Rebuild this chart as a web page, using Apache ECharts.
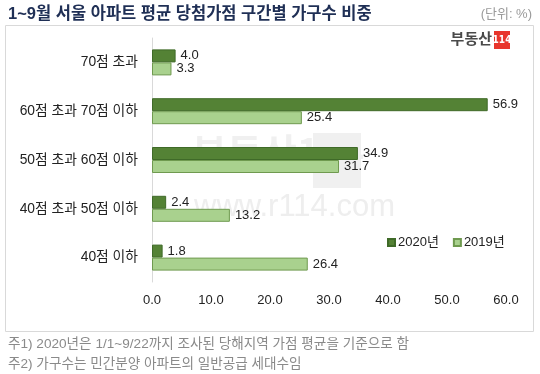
<!DOCTYPE html>
<html><head><meta charset="utf-8">
<script src="https://cdn.jsdelivr.net/npm/echarts@6/dist/echarts.min.js"></script>
<style>html,body{margin:0;padding:0;background:#fff}#c{width:540px;height:374px}</style>
</head><body><div id="c"></div>
<script>
const categories = ['70점 초과', '60점 초과 70점 이하', '50점 초과 60점 이하', '40점 초과 50점 이하', '40점 이하'];
const values2020 = [4.0, 56.9, 34.9, 2.4, 1.8];
const values2019 = [3.3, 25.4, 31.7, 13.2, 26.4];
const seriesNames = ['2020년', '2019년'];
const xTicks = [0, 10, 20, 30, 40, 50, 60];

const FONT = '"Liberation Sans", "Noto Sans CJK KR", sans-serif';
const chart = echarts.init(document.getElementById('c'), null, {renderer: 'canvas'});
chart.setOption({
  animation: false,
  textStyle: {fontFamily: FONT},
  graphic: [
    {type: 'rect', shape: {x: 5.5, y: 25.5, width: 528, height: 306}, style: {fill: 'none', stroke: '#d9d9d9', lineWidth: 1}, z: 0},
    {type: 'text', x: 8, y: 14, style: {text: '1~9월 서울 아파트 평균 당첨가점 구간별 가구수 비중', font: 'bold 16.5px ' + FONT, fill: '#1f2f55', verticalAlign: 'middle'}},
    {type: 'text', x: 532, y: 14, style: {text: '(단위: %)', font: '13px ' + FONT, fill: '#9a9a9a', align: 'right', verticalAlign: 'middle'}},
    // logo
    {type: 'text', x: 492, y: 40, style: {text: '부동산', font: 'bold 15px ' + FONT, fill: '#4a4a4a', align: 'right', verticalAlign: 'middle'}},
    {type: 'rect', shape: {x: 494, y: 31, width: 16, height: 18}, style: {fill: '#e8352c'}},
    {type: 'text', x: 502, y: 40.5, style: {text: '114', font: 'bold 10px "Liberation Sans Narrow", "DejaVu Sans Condensed", sans-serif', fill: '#ffffff', align: 'center', verticalAlign: 'middle'}},
    // watermark
    {type: 'rect', shape: {x: 313, y: 133, width: 48, height: 55}, style: {fill: '#f0f0f0'}, z: -1},
    {type: 'text', x: 192, y: 152, style: {text: '부동산114', font: 'bold 38px "Noto Sans CJK KR", sans-serif', fill: '#f0f0f0', verticalAlign: 'middle'}, z: -1},
    {type: 'text', x: 194, y: 207, style: {text: 'www.r114.com', font: '31px "Liberation Sans", sans-serif', fill: '#eeeeee', verticalAlign: 'middle'}, z: -1},
    // footnotes
    {type: 'text', x: 8, y: 344, style: {text: '주1) 2020년은 1/1~9/22까지 조사된 당해지역 가점 평균을 기준으로 함', font: '13.6px ' + FONT, fill: '#8a8a8a', verticalAlign: 'middle'}},
    {type: 'text', x: 8, y: 364, style: {text: '주2) 가구수는 민간분양 아파트의 일반공급 세대수임', font: '13.6px ' + FONT, fill: '#8a8a8a', verticalAlign: 'middle'}}
  ],
  legend: {
    data: seriesNames,
    left: 382, top: 231,
    itemWidth: 7, itemHeight: 7, itemGap: 14, icon: 'rect',
    textStyle: {fontSize: 13, color: '#222', fontFamily: FONT, padding: [0, 0, 0, -2]}
  },
  grid: {left: 152, right: 34, top: 38, bottom: 92, containLabel: false},
  xAxis: {
    type: 'value', min: 0, max: 60, interval: 10,
    axisLine: {show: false}, axisTick: {show: false}, splitLine: {show: false},
    axisLabel: {margin: 12, fontSize: 13, color: '#222', fontFamily: FONT,
      formatter: v => xTicks.includes(v) ? v.toFixed(1) : ''}
  },
  yAxis: {
    type: 'category', data: categories, inverse: true,
    axisLine: {show: true, lineStyle: {color: '#d9d9d9'}}, axisTick: {show: false},
    axisLabel: {margin: 14, fontSize: 13.8, color: '#222', fontFamily: FONT}
  },
  series: [
    {name: seriesNames[0], type: 'bar', data: values2020, barWidth: 13, barGap: '0%',
      itemStyle: {color: '#548235', borderColor: '#3f6a28', borderWidth: 1},
      label: {show: true, position: 'right', distance: 5, fontSize: 13, color: '#222', fontFamily: FONT, formatter: p => p.value.toFixed(1)}},
    {name: seriesNames[1], type: 'bar', data: values2019, barWidth: 13,
      itemStyle: {color: '#a9d18e', borderColor: '#6f9a4f', borderWidth: 1},
      label: {show: true, position: 'right', distance: 5, fontSize: 13, color: '#222', fontFamily: FONT, formatter: p => p.value.toFixed(1)}}
  ]
});
</script></body></html>
